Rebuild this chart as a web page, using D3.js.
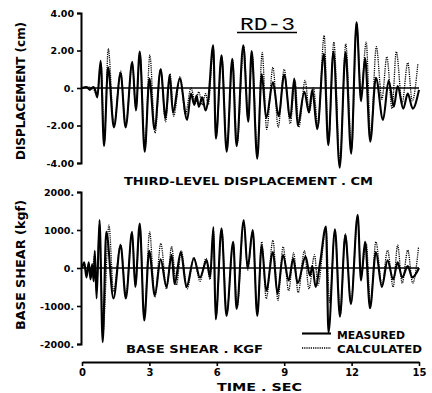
<!DOCTYPE html>
<html><head><meta charset="utf-8">
<script src="https://cdn.jsdelivr.net/npm/d3@7"></script>
<style>html,body{margin:0;padding:0;background:#fff;}svg{display:block;}</style>
</head><body>
<script>
// ---------- DATA ----------
const dispTicks = [-4, -2, 0, 2, 4];
const shearTicks = [-2000, -1000, 0, 1000, 2000];
const timeTicks = [0, 3, 6, 9, 12, 15];

// Third-level displacement (cm), measured
const dispMeasT = [0,0.2,0.35,0.5,0.6,0.68,0.83,0.98,1.16,1.42,1.72,1.94,2.24,2.4,2.57,2.79,3.0,3.23,3.5,3.72,3.9,4.05,4.35,4.68,4.85,5.0,5.1,5.2,5.35,5.5,5.62,5.84,5.96,6.21,6.44,6.69,6.88,7.18,7.4,7.55,7.8,8.0,8.2,8.5,8.75,9.0,9.27,9.45,9.6,9.9,10.1,10.25,10.47,10.77,10.96,11.19,11.47,11.73,11.98,12.22,12.42,12.6,12.83,13.08,13.4,13.65,13.88,14.05,14.3,14.5,14.72,15.0];
const dispMeasV = [0,0.05,-0.1,0.05,-0.15,-0.5,1.45,-3.1,1.1,-2.1,0.8,-2.1,1.4,-1.2,1.95,-3.4,0.5,-2.2,1.0,-1.6,0.7,-1.3,0.5,-1.7,-0.3,-0.9,-0.4,-1.0,-0.5,-1.2,-0.6,2.28,-2.7,1.74,-3.4,1.56,-3.1,2.28,-1.8,1.97,-3.77,0.75,-1.6,0.3,-1.5,0.7,-1.6,0.5,-2.0,-0.2,-1.3,-0.1,-2.2,1.83,-3.05,1.95,-4.25,1.9,-3.5,3.5,-0.7,1.6,-2.86,0.55,-1.7,0.4,-1.0,0.1,-1.1,-0.3,-1.1,-0.1];

// Third-level displacement (cm), calculated
const dispCalcT = [0,0.3,0.5,0.68,0.85,0.99,1.17,1.42,1.72,1.94,2.24,2.4,2.58,2.8,3.02,3.25,3.5,3.72,3.92,4.08,4.37,4.6,4.85,5.05,5.2,5.35,5.5,5.62,5.84,5.97,6.22,6.45,6.7,6.9,7.2,7.4,7.57,7.8,8.02,8.22,8.5,8.73,9.0,9.27,9.48,9.65,9.93,10.12,10.3,10.5,10.78,10.97,11.21,11.48,11.74,12.0,12.22,12.42,12.65,12.85,13.1,13.35,13.57,13.8,13.99,14.25,14.5,14.7,14.95];
const dispCalcV = [0,0.05,-0.05,-0.4,1.3,-2.9,2.1,-2.0,0.9,-2.0,1.3,-1.1,1.9,-3.2,1.75,-2.4,1.0,-1.8,0.75,-1.5,0.6,-1.4,0.0,-0.8,-0.2,-0.9,-0.3,-0.9,2.1,-2.6,1.7,-3.3,1.5,-3.0,2.2,-1.7,1.9,-3.5,1.9,-2.2,1.1,-2.1,1.0,-1.9,0.4,-2.1,0.4,-1.3,0.0,-2.0,2.8,-3.0,2.45,-4.0,2.35,-3.3,3.5,-0.3,2.45,-2.7,2.2,-0.6,1.67,-1.1,1.94,-0.8,1.35,-0.7,1.3];

// Base shear (kgf), measured
const shearMeasT = [0,0.1,0.2,0.3,0.38,0.45,0.52,0.57,0.65,0.78,0.92,1.08,1.4,1.72,1.95,2.23,2.37,2.57,2.77,2.99,3.24,3.5,3.76,3.99,4.12,4.4,4.65,4.98,5.25,5.55,5.7,5.85,5.95,6.21,6.43,6.73,6.88,7.2,7.37,7.6,7.8,8.0,8.2,8.5,8.7,8.95,9.2,9.4,9.6,9.95,10.15,10.25,10.4,10.6,10.86,10.97,11.26,11.48,11.72,11.97,12.27,12.42,12.6,12.82,13.08,13.35,13.6,13.85,14.05,14.25,14.5,14.7,15.0];
const shearMeasV = [0,150,-250,150,-300,100,-350,450,-800,1260,-1950,950,-800,600,-800,950,-500,1170,-1380,450,-720,230,-500,350,-420,420,-500,250,-250,200,-250,1080,-1350,1045,-1260,690,-1080,1265,0,1000,-1260,600,-600,420,-680,340,-330,250,-400,300,-200,50,-500,150,1090,-1700,1020,-1280,870,-950,1400,-330,690,-1060,420,-500,200,-300,150,-250,50,-250,0];

// Base shear (kgf), calculated
const shearCalcT = [0,0.1,0.2,0.3,0.4,0.5,0.56,0.65,0.78,0.93,1.2,1.4,1.72,1.95,2.23,2.38,2.58,2.77,3.01,3.24,3.51,3.76,3.99,4.2,4.42,4.68,4.98,5.25,5.52,5.7,5.85,5.96,6.22,6.44,6.73,6.9,7.2,7.38,7.6,7.8,8.0,8.2,8.5,8.72,8.95,9.2,9.42,9.62,9.9,10.1,10.35,10.5,10.86,11.02,11.26,11.5,11.72,11.97,12.27,12.42,12.65,12.84,13.08,13.35,13.6,13.85,14.05,14.25,14.5,14.72,14.98];
const shearCalcV = [0,100,-200,100,-250,100,350,-600,1150,-1700,1130,-620,620,-700,900,-450,1100,-1300,950,-770,650,-550,560,-450,450,-550,280,-350,250,-300,1000,-1300,1000,-1200,650,-1050,1200,-50,950,-1200,690,-810,730,-850,560,-600,400,-650,450,-550,350,-450,1050,-900,950,-1200,900,-900,1300,-200,650,-950,690,-450,470,-500,600,-400,470,-400,550];

// ---------- LAYOUT ----------
const W = 432, H = 393;
const svg = d3.select("body").append("svg").attr("width", W).attr("height", H)
  .style("background", "#fff");
const FONT = "'DejaVu Sans', sans-serif";

const x = d3.scaleLinear().domain([0, 15]).range([82, 419]);
const yTop = d3.scaleLinear().domain([-4, 4]).range([163, 13]);
const yBot = d3.scaleLinear().domain([-2000, 2000]).range([344, 192]);

function styleAxis(g) {
  g.select(".domain").attr("stroke", "#000").attr("stroke-width", 2);
  g.selectAll(".tick line").attr("stroke", "#000").attr("stroke-width", 1.6);
  g.selectAll(".tick text").attr("fill", "#000").attr("font-family", FONT)
    .attr("font-weight", "bold").attr("font-size", 9.5);
}

// top y axis
svg.append("g").attr("transform", "translate(81,0)")
  .call(d3.axisLeft(yTop).tickValues(dispTicks).tickSize(4).tickSizeOuter(4).tickPadding(3)
    .tickFormat(d => d === 0 ? "0." : d.toFixed(2)))
  .call(styleAxis);

// bottom y axis
svg.append("g").attr("transform", "translate(81,0)")
  .call(d3.axisLeft(yBot).tickValues(shearTicks).tickSize(4).tickSizeOuter(4).tickPadding(3)
    .tickFormat(d => d + "."))
  .call(styleAxis);

// time axis
svg.append("g").attr("transform", "translate(0,362)")
  .call(d3.axisBottom(x).tickValues(timeTicks).tickSize(4).tickSizeOuter(0).tickPadding(3)
    .tickFormat(d => d))
  .call(styleAxis)
  .call(g => g.selectAll(".tick text").attr("font-size", 10));

// zero lines
[[yTop, 0], [yBot, 0]].forEach(([ys, v]) => {
  svg.append("line").attr("x1", x(0)).attr("x2", x(15)).attr("y1", ys(v)).attr("y2", ys(v))
    .attr("stroke", "#000").attr("stroke-width", 1.6);
});

// series
function draw(ts, vs, ys, dashed) {
  const pts = ts.map((t, i) => [t, vs[i]]);
  const path = svg.append("path").datum(pts)
    .attr("d", d3.line().x(d => x(d[0])).y(d => ys(d[1])).curve(d3.curveMonotoneX))
    .attr("fill", "none").attr("stroke", "#000");
  if (dashed) path.attr("stroke-width", 1.3).attr("stroke-dasharray", "1.2,1");
  else path.attr("stroke-width", 2.1).attr("stroke-linejoin", "round");
}
draw(dispCalcT, dispCalcV, yTop, true);
draw(dispMeasT, dispMeasV, yTop, false);
draw(shearCalcT, shearCalcV, yBot, true);
draw(shearMeasT, shearMeasV, yBot, false);

// texts
function txt(s, x0, y0, size, len, opts = {}) {
  const t = svg.append("text").attr("x", x0).attr("y", y0).text(s)
    .attr("font-family", opts.family || FONT).attr("font-weight", opts.weight || "bold")
    .attr("font-size", size).attr("fill", "#000");
  if (len) t.attr("textLength", len).attr("lengthAdjust", "spacingAndGlyphs");
  if (opts.rotate) t.attr("transform", `rotate(-90,${x0},${y0})`);
  return t;
}
txt("RD-3", 240, 30, 18, 55, {family: "'Liberation Mono', monospace", weight: "normal"});
svg.append("line").attr("x1", 237).attr("x2", 297).attr("y1", 32.5).attr("y2", 32.5)
  .attr("stroke", "#000").attr("stroke-width", 1.6);

txt("THIRD-LEVEL DISPLACEMENT . CM", 124, 185, 11, 249);
txt("BASE SHEAR . KGF", 126, 353, 11, 137);
txt("TIME . SEC", 217, 391, 11, 85);
txt("DISPLACEMENT (cm)", 25, 160, 13, 138, {rotate: true});
txt("BASE SHEAR (kgf)", 25, 330, 13, 130, {rotate: true});

// legend
svg.append("line").attr("x1", 302).attr("x2", 331).attr("y1", 333.5).attr("y2", 333.5)
  .attr("stroke", "#000").attr("stroke-width", 2.1);
svg.append("line").attr("x1", 302).attr("x2", 331).attr("y1", 348).attr("y2", 348)
  .attr("stroke", "#000").attr("stroke-width", 1.3).attr("stroke-dasharray", "1.2,1");
txt("MEASURED", 337, 339, 11, 68);
txt("CALCULATED", 337, 353, 11, 85);
</script>
</body></html>
